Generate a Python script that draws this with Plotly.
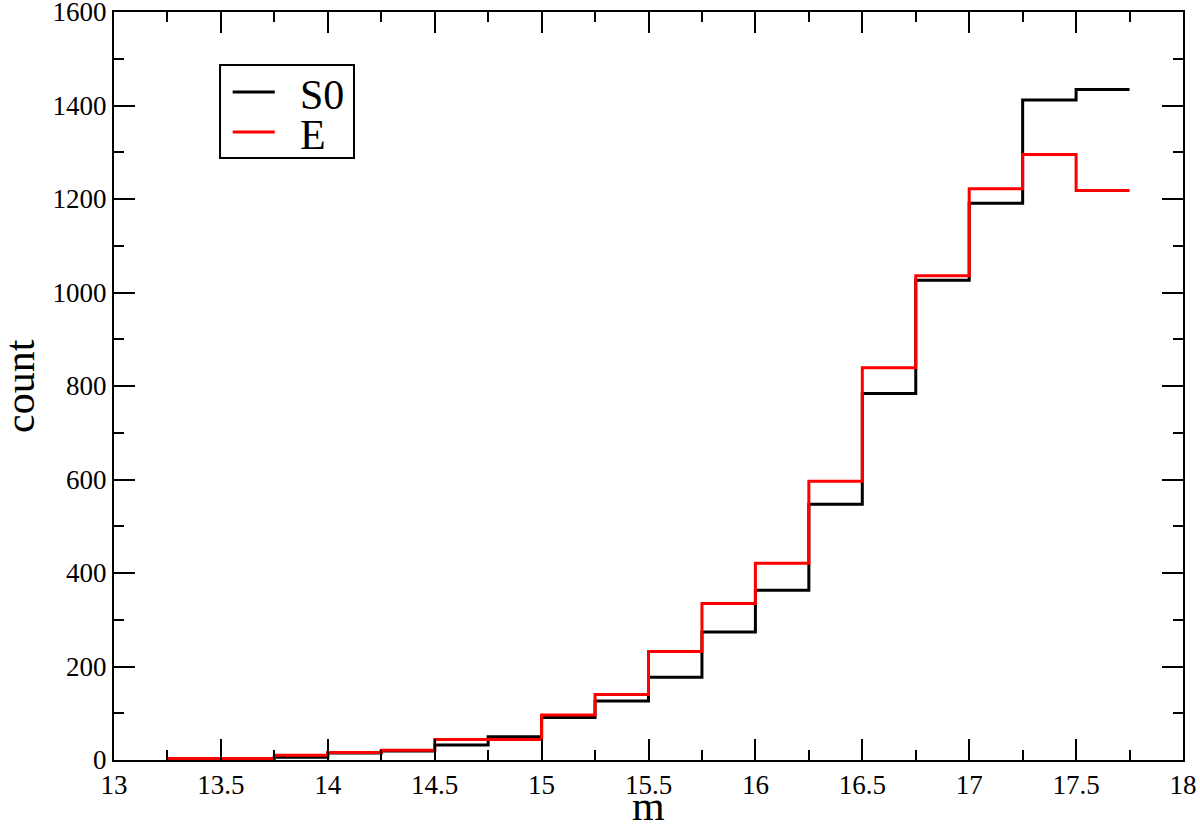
import plotly.graph_objects as go

# bin edges (width 0.25) and counts per bin
bin_edges = [13.25, 13.5, 13.75, 14.0, 14.25, 14.5, 14.75, 15.0, 15.25, 15.5,
             15.75, 16.0, 16.25, 16.5, 16.75, 17.0, 17.25, 17.5, 17.75]
s0_counts = [2, 3, 6, 15, 19, 32, 50, 91, 126, 177, 274, 363, 547, 784, 1026, 1191, 1412, 1434]
e_counts = [3, 3, 10, 16, 21, 44, 44, 96, 140, 232, 335, 421, 596, 839, 1036, 1222, 1295, 1218]
series_names = ["S0", "E"]
series_colors = ["black", "#ff0000"]

serif = "Liberation Serif, Times New Roman, serif"


def step_y(counts):
    return counts + [counts[-1]]


fig = go.Figure()
for name, counts, color in zip(series_names, [s0_counts, e_counts], series_colors):
    fig.add_trace(go.Scatter(x=bin_edges, y=step_y(counts), mode="lines", name=name,
                             line=dict(color=color, width=3, shape="hv"), showlegend=False))

axis_style = dict(
    showline=True, linecolor="black", linewidth=2, mirror="allticks",
    ticks="inside", ticklen=21, tickwidth=2, tickcolor="black",
    showgrid=False, zeroline=False, automargin=False, ticklabeloverflow="allow",
    tickfont=dict(family=serif, size=27, color="black"),
)

fig.update_xaxes(range=[13, 18], dtick=0.5,
                 minor=dict(ticks="inside", dtick=0.25, ticklen=10, tickwidth=2, tickcolor="black"),
                 **axis_style)
fig.update_yaxes(range=[0, 1600], dtick=200,
                 minor=dict(ticks="inside", dtick=100, ticklen=10, tickwidth=2, tickcolor="black"),
                 **axis_style)

title_font = dict(family=serif, size=42, color="black")
fig.add_annotation(text="m", xref="paper", yref="paper", x=0.5, y=-0.062,
                   xanchor="center", yanchor="middle", showarrow=False, font=title_font)
fig.add_annotation(text="count", xref="paper", yref="paper", x=-0.088, y=0.5, textangle=-90,
                   xanchor="center", yanchor="middle", showarrow=False, font=title_font)

# legend box drawn by hand (xmgrace style)
fig.add_shape(type="rect", xref="paper", yref="paper", x0=0.0992, x1=0.2245, y0=0.8048, y1=0.9291,
              line=dict(color="black", width=2), fillcolor="white", layer="below")
legend_y = [0.893, 0.8396]
for name, color, ly in zip(series_names, series_colors, legend_y):
    fig.add_shape(type="line", xref="paper", yref="paper", x0=0.111, x1=0.1504, y0=ly, y1=ly,
                  line=dict(color=color, width=3))
    fig.add_annotation(text=name, xref="paper", yref="paper", x=0.1721, y=ly - 0.004,
                       xanchor="left", yanchor="middle", showarrow=False,
                       font=dict(family=serif, size=42, color="black"))

fig.update_layout(
    width=1200, height=825,
    margin=dict(l=114, r=17, t=12, b=65),
    plot_bgcolor="white", paper_bgcolor="white",
)

# drop the default 8px body margin so the figure fills the window
fig.write_html("out.html", config={"displayModeBar": False},
               post_script="document.body.style.margin = '0';")
